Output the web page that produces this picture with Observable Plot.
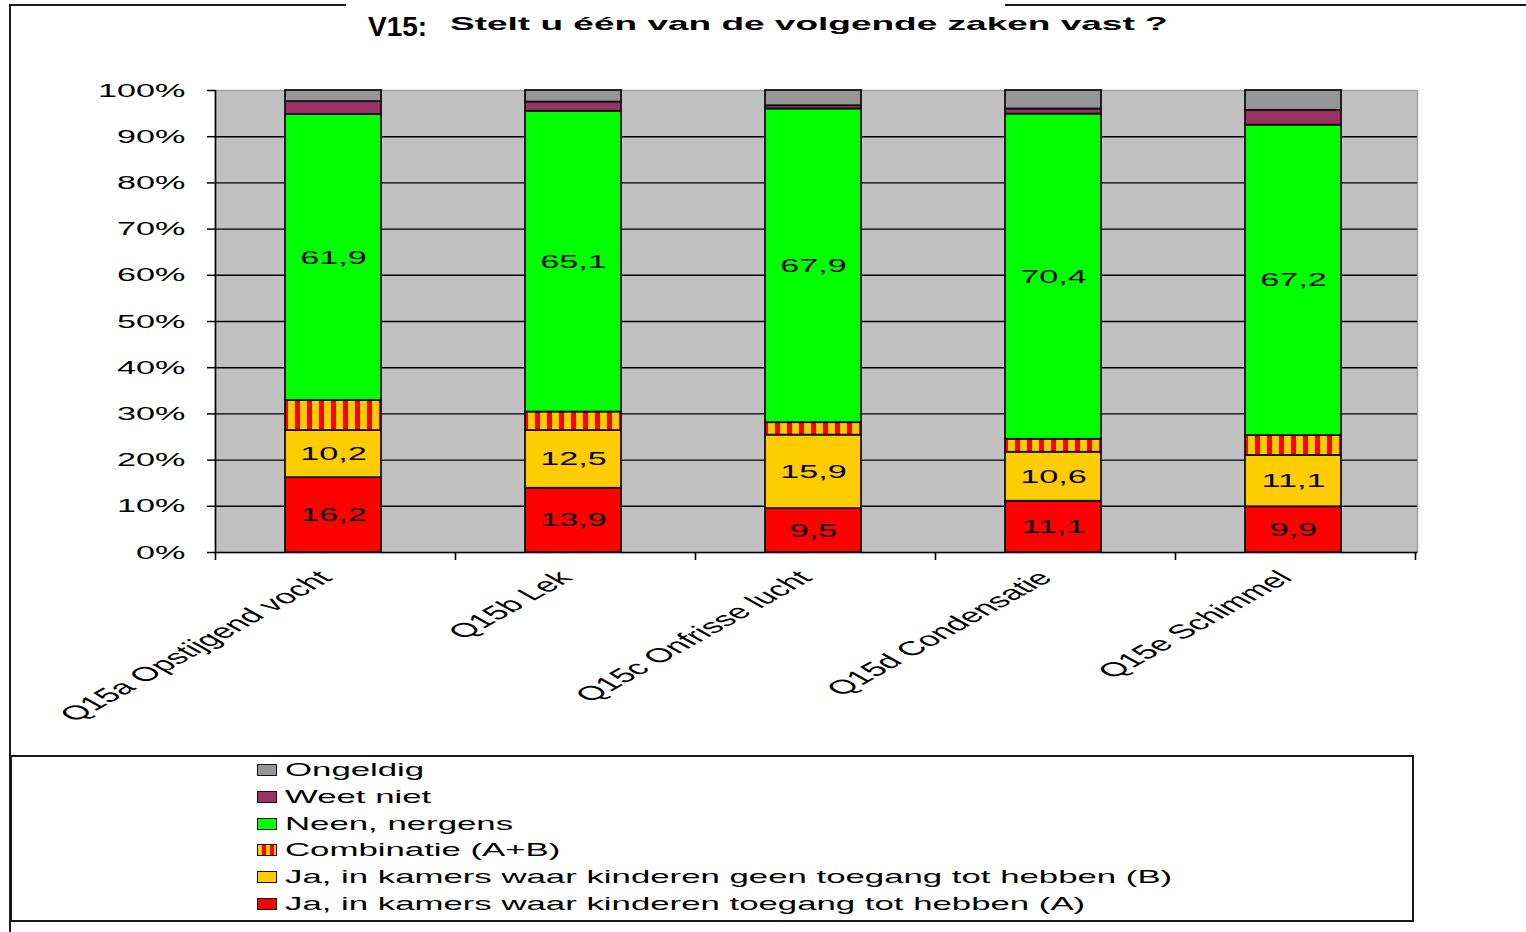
<!DOCTYPE html>
<html>
<head>
<meta charset="utf-8">
<script src="https://cdn.jsdelivr.net/npm/d3@7"></script>
<script src="https://cdn.jsdelivr.net/npm/@observablehq/plot@0.6"></script>
<style>
  body { margin: 0; background: #fff; font-family: "Liberation Sans", Arial, sans-serif; }
  #page { position: relative; width: 1526px; height: 932px; overflow: hidden; background: #fff; }
  #chart { position: absolute; left: 0; top: 0; }
  .line { position: absolute; background: #1a1a1a; }
  #titleA { position: absolute; left: 368px; top: 13px; font-size: 28px; line-height: 28px; font-weight: bold; white-space: nowrap; }
  #titleB { position: absolute; left: 450px; top: 15px; font-size: 18.5px; line-height: 18.5px; font-weight: bold; white-space: nowrap; transform: scaleX(2.0); transform-origin: left center; }
  #legend { position: absolute; left: 10px; top: 755px; width: 1404px; height: 167px; border: 2px solid #1a1a1a; box-sizing: border-box; }
  .lrow { position: absolute; left: 0; height: 20px; }
  .sw { position: absolute; left: 245px; top: 4px; width: 18px; height: 10px; border: 1.5px solid #111; box-sizing: content-box; }
  .lt { position: absolute; left: 273px; top: 0; font-size: 19px; line-height: 19px; white-space: nowrap; transform: scaleX(1.83); transform-origin: left center; }
</style>
</head>
<body>
<div id="page">
  <div id="chart"></div>
  <div class="line" style="left:9px;top:4px;width:2px;height:928px;"></div>
  <div class="line" style="left:9px;top:4px;width:337px;height:2px;"></div>
  <div class="line" style="left:1005px;top:4px;width:521px;height:2px;"></div>
  <div id="titleA">V15:</div>
  <div id="titleB">Stelt u één van de volgende zaken vast ?</div>
  <div id="legend"></div>
</div>
<script>
// ---------- data ----------
const categories = ["Q15a Opstijgend vocht", "Q15b Lek", "Q15c Onfrisse lucht", "Q15d Condensatie", "Q15e Schimmel"];
// series, stacked bottom -> top
const series = [
  "Ja, in kamers waar kinderen toegang tot hebben (A)",
  "Ja, in kamers waar kinderen geen toegang tot hebben (B)",
  "Combinatie (A+B)",
  "Neen, nergens",
  "Weet niet",
  "Ongeldig"
];
const jaA      = [16.2, 13.9, 9.5, 11.1, 9.9];
const jaB      = [10.2, 12.5, 15.9, 10.6, 11.1];
const combAB   = [6.5, 4.0, 2.7, 2.8, 4.3];
const neen     = [61.9, 65.1, 67.9, 70.4, 67.2];
const weetNiet = [2.8, 2.0, 0.7, 1.1, 3.2];
const ongeldig = [2.4, 2.5, 3.3, 4.0, 4.3];
const labeledSeries = ["Ja, in kamers waar kinderen toegang tot hebben (A)", "Ja, in kamers waar kinderen geen toegang tot hebben (B)", "Neen, nergens"];
const yTicks = [0, 10, 20, 30, 40, 50, 60, 70, 80, 90, 100];
const seriesColors = ["#FF0000", "#FFCC00", "url(#combStripes)", "#00FF00", "#993366", "#969696"];

// ---------- table ----------
const valuesBySeries = [jaA, jaB, combAB, neen, weetNiet, ongeldig];
const table = [];
series.forEach((s, si) => categories.forEach((c, ci) => table.push({series: s, category: c, value: valuesBySeries[si][ci]})));
const fmt = v => v.toFixed(1).replace(".", ",");

const svg = Plot.plot({
  width: 1526,
  height: 750,
  marginLeft: 213,
  marginRight: 113,
  marginTop: 90,
  marginBottom: 198,
  style: {fontFamily: "'Liberation Sans', Arial, sans-serif", background: "transparent", color: "black", overflow: "visible"},
  x: {domain: categories, paddingInner: 0.6, paddingOuter: 0.3, label: null},
  y: {domain: [0, 100], label: null},
  color: {domain: series, range: seriesColors},
  marks: [
    Plot.frame({fill: "#C0C0C0", stroke: "#a0a0a0", strokeWidth: 1.5, insetLeft: 2, insetRight: -4}),
    Plot.gridY(yTicks.filter(t => t < 100), {stroke: "#000", strokeOpacity: 1, strokeWidth: 1.4, insetLeft: 2, insetRight: -4}),
    Plot.barY(table, {x: "category", y: "value", fill: "series", stroke: "#111", strokeWidth: 1.8}),
    Plot.text(table, Plot.stackY({
      x: "category", y: "value", z: "series",
      text: d => labeledSeries.includes(d.series) ? fmt(d.value) : null,
      fill: "#000", fontSize: 19
    })),
    Plot.ruleX([categories[0]], {x: d => d, dx: -118, y1: 100, y2: 0, insetBottom: -8, stroke: "#000", strokeWidth: 1.6}),
    Plot.ruleX(categories, {x: d => d, dx: 122, y1: 0, y2: 0, insetBottom: -8, stroke: "#000", strokeWidth: 1.6}),
    Plot.axisY({ticks: yTicks, tickFormat: d => d + "%", tickSize: 8, tickPadding: 22, fontSize: 19, label: null, strokeWidth: 1.5, dx: 2}),
    Plot.axisX({tickRotate: -45, tickSize: 0, tickPadding: 22, fontSize: 20, label: null, dx: -8})
  ]
});

// stripe pattern for the combination segment
const NS = "http://www.w3.org/2000/svg";
const defs = document.createElementNS(NS, "defs");
defs.innerHTML = '<pattern id="combStripes" patternUnits="userSpaceOnUse" x="1" y="0" width="12" height="10">' +
  '<rect width="12" height="10" fill="#FFCC00"></rect><rect x="6" width="5" height="10" fill="#FF0000"></rect></pattern>';
svg.insertBefore(defs, svg.firstChild);

// widen glyphs horizontally like the reference
svg.querySelectorAll("text").forEach(t => {
  const tr = t.getAttribute("transform");
  if (tr && /^translate\(/.test(tr)) {
    t.setAttribute("transform", tr.replace(/^(translate\([^)]*\))/, "$1 scale(1.8,1)"));
  } else {
    const x = +(t.getAttribute("x") || 0), y = +(t.getAttribute("y") || 0);
    t.removeAttribute("x"); t.removeAttribute("y");
    t.setAttribute("transform", `translate(${x},${y}) scale(1.8,1)` + (tr ? " " + tr : ""));
  }
});
document.getElementById("chart").appendChild(svg);

// legend (top -> bottom is reverse stacking order)
const legend = document.getElementById("legend");
const swatchBg = c => c.startsWith("url(")
  ? "repeating-linear-gradient(90deg,#FFCC00 0 4px,#FF0000 4px 8px)"
  : c;
series.slice().reverse().forEach((s, i) => {
  const color = seriesColors[series.indexOf(s)];
  const row = document.createElement("div");
  row.className = "lrow";
  row.style.top = (3 + i * 26.8) + "px";
  row.style.width = "100%";
  row.innerHTML = `<div class="sw" style="background:${swatchBg(color)}"></div><div class="lt">${s}</div>`;
  legend.appendChild(row);
});
</script>
</body>
</html>
